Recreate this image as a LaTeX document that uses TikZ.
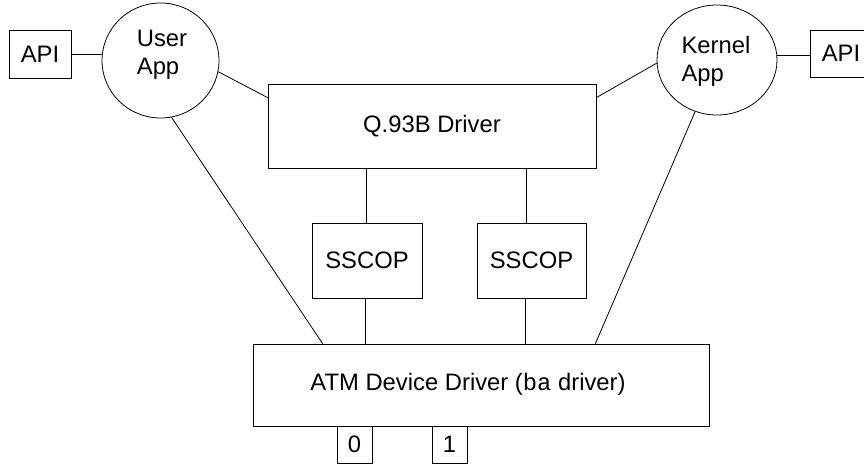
\documentclass[tikz,border=0pt]{standalone}
\usepackage{fontspec}
\setmainfont{Liberation Sans}
\newfontfamily\courfont{Liberation Mono}
\usetikzlibrary{shapes.geometric}
\begin{document}
\begin{tikzpicture}[x=1pt,y=-1pt,
  every node/.style={font=\fontsize{23.8}{28}\selectfont, inner sep=0pt},
  box/.style={draw, line width=0.8pt, rectangle},
  oval/.style={draw, line width=0.8pt, ellipse},
  conn/.style={line width=0.8pt}]
\useasboundingbox (0,0) rectangle (864,463);
% API boxes
\node[box, minimum width=62pt, minimum height=48pt] (apiL) at (40,54) {API};
\node[box, minimum width=62pt, minimum height=47pt] (apiR) at (841,53.5) {API};
% apps
\node[oval, minimum width=117pt, minimum height=115pt] (ua) at (160.5,60.5) {};
\node[align=left] (uat) at (162,55) {User\\App};
\node[oval, minimum width=120pt, minimum height=110pt] (ka) at (717,60) {};
\node[align=left] (kat) at (716,61) {Kernel\\App};
% driver
\node[box, minimum width=328pt, minimum height=84pt] (q) at (432,126) {Q.93B Driver};
\node[box, minimum width=110pt, minimum height=75pt] (s1) at (367,260.5) {SSCOP};
\node[box, minimum width=109pt, minimum height=75pt] (s2) at (531.5,260.5) {SSCOP};
\node[box, minimum width=456pt, minimum height=82pt] (atm) at (481,385) {};
\node (atmt) at (468,384) {ATM Device Driver ({\courfont ba} driver)};
\node[box, minimum width=35pt, minimum height=37pt] (p0) at (354.5,444.5) {0};
\node[box, minimum width=35pt, minimum height=37pt] (p1) at (449.5,444.5) {1};
% connectors
\draw[conn] (apiL.east) -- (apiL.east -| ua.west);
\draw[conn] ([yshift=-1.5pt]apiR.west) -- ([yshift=-1.5pt]apiR.west -| ka.east);
\draw[conn] (ua.-11) -- ([yshift=-14pt]q.north west);
\draw[conn] (ka.183) -- ([yshift=-14pt]q.north east);
\draw[conn] (ua.-79) -- ([xshift=70pt]atm.north west);
\draw[conn] (ka.247) -- ([xshift=-114pt]atm.north east);
\draw[conn] ([xshift=-1pt]s1.north) -- ([xshift=-1pt]s1.north |- q.south);
\draw[conn] ([xshift=-5.5pt]s2.north) -- ([xshift=-5.5pt]s2.north |- q.south);
\draw[conn] ([xshift=-2pt]s1.south) -- ([xshift=-2pt]s1.south |- atm.north);
\draw[conn] ([xshift=-6pt]s2.south) -- ([xshift=-6pt]s2.south |- atm.north);
\end{tikzpicture}
\end{document}
